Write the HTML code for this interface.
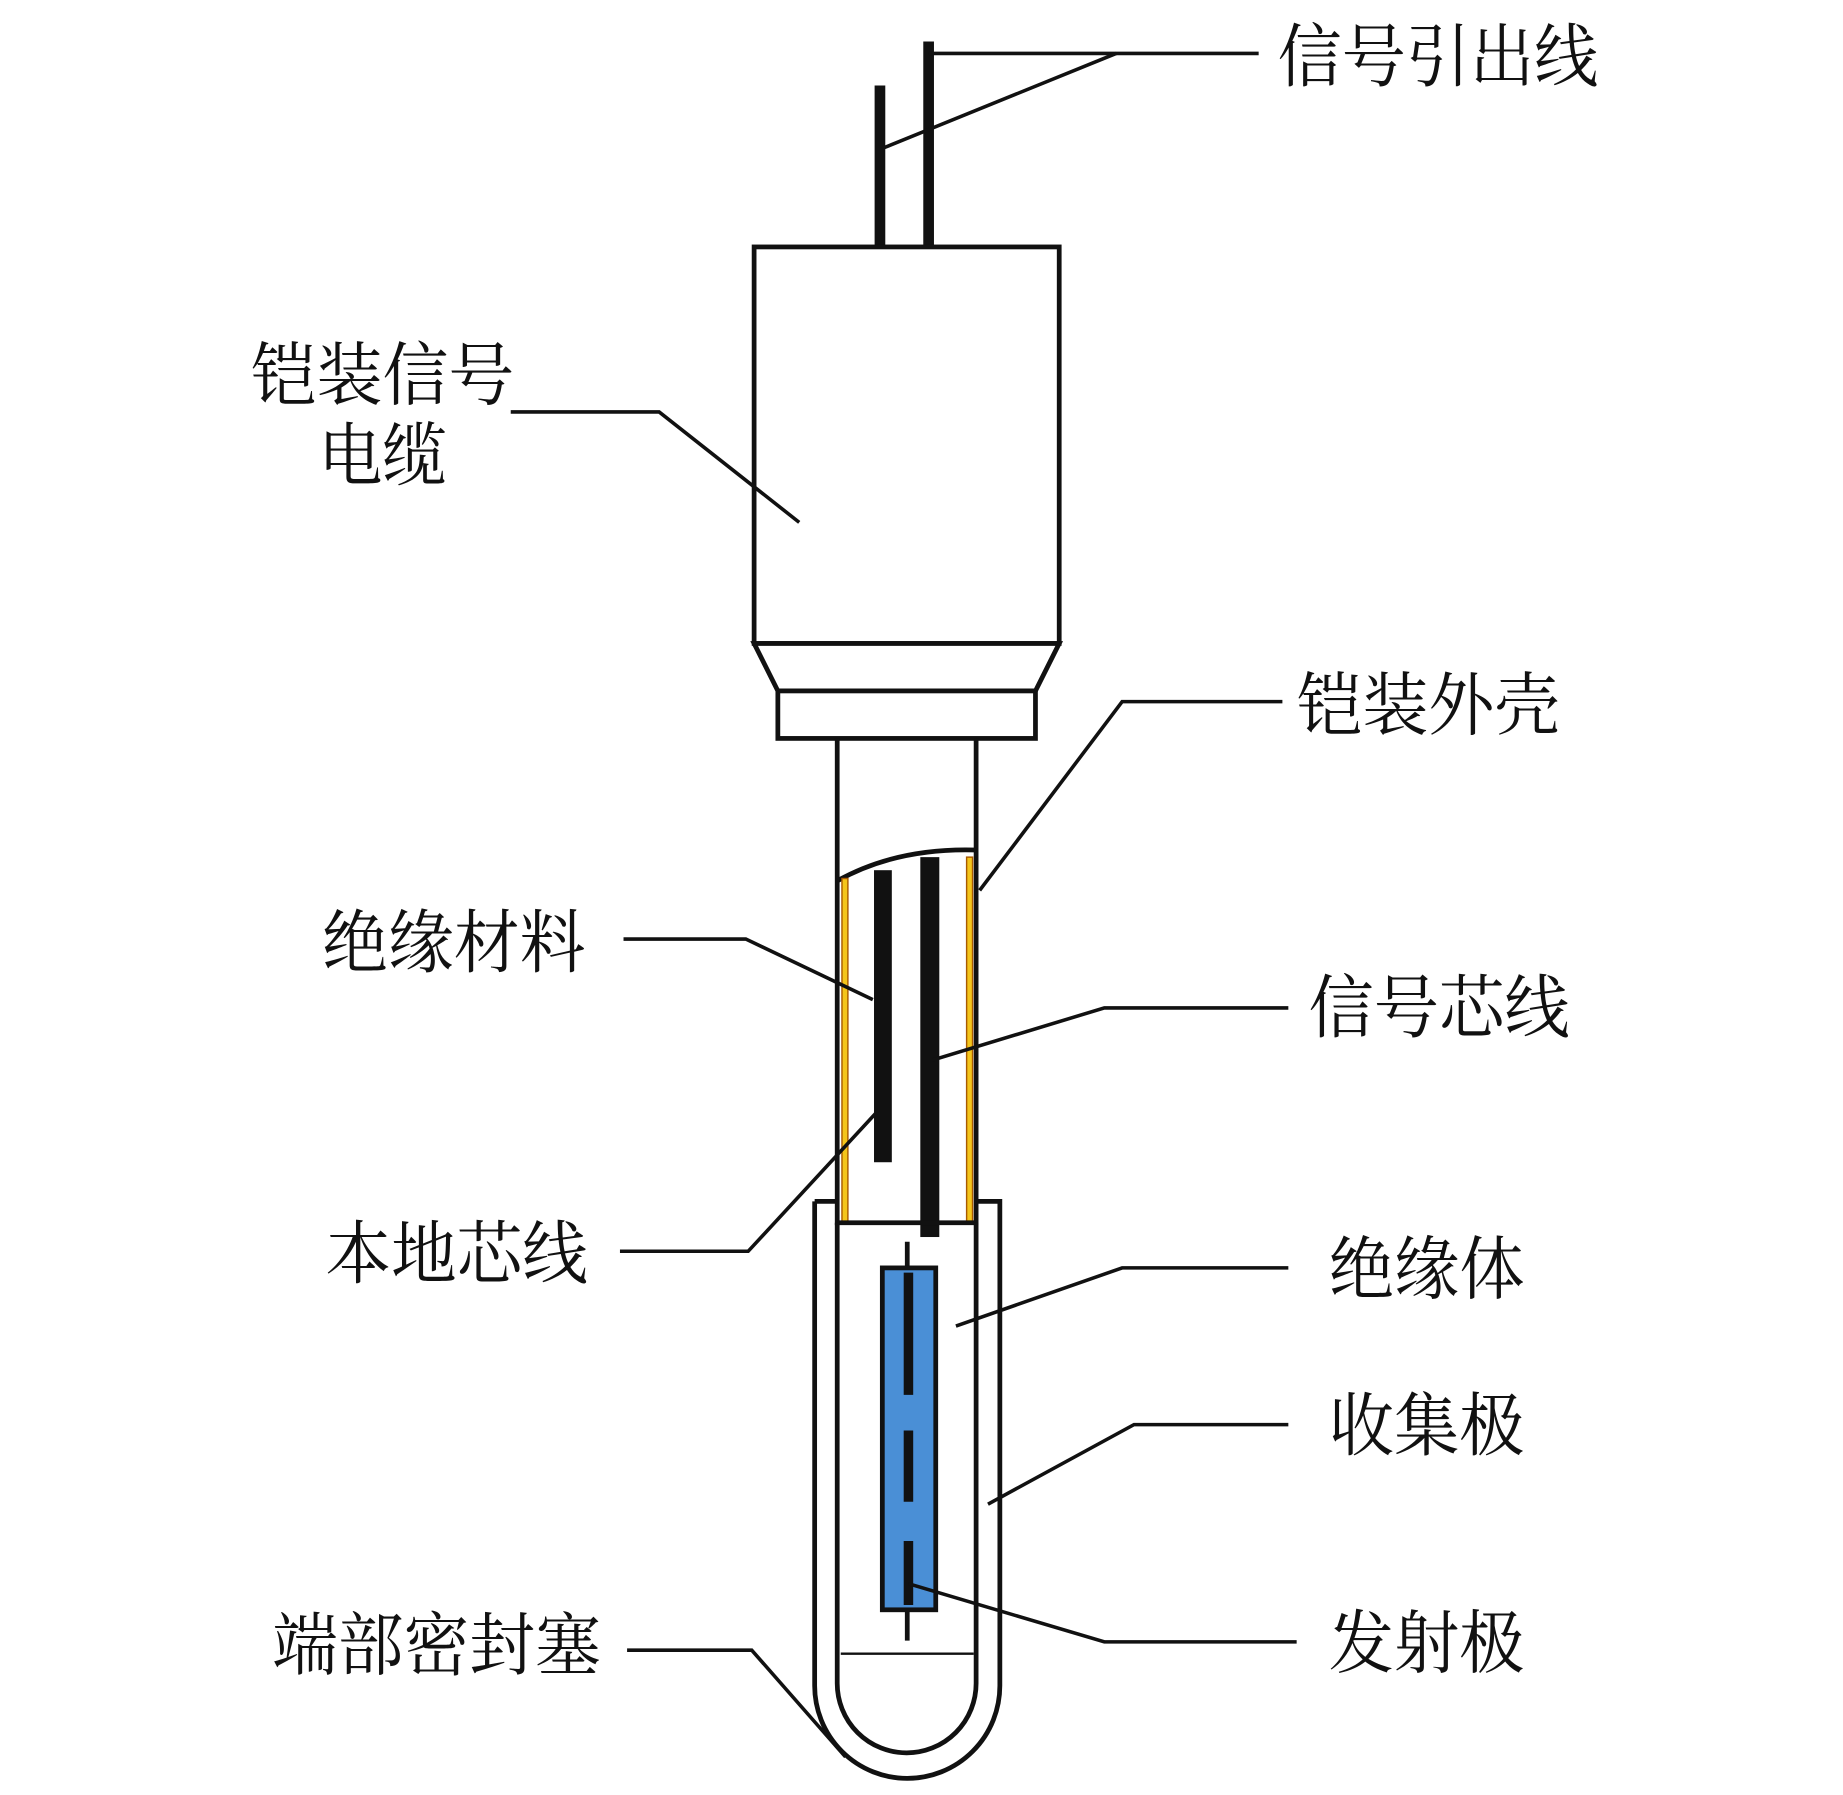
<!DOCTYPE html>
<html><head><meta charset="utf-8"><style>html,body{margin:0;padding:0;background:#fff}svg{display:block}</style></head>
<body>
<svg width="1843" height="1795" viewBox="0 0 1552 1512" xmlns="http://www.w3.org/2000/svg">
<rect width="1552" height="1512" fill="#fff"/>
<g font-family="'Liberation Serif','Noto Serif CJK SC',serif" font-size="58" fill="#111">
<text x="1076" y="68" textLength="270" lengthAdjust="spacingAndGlyphs">信号引出线</text>
<text x="211" y="336" textLength="222" lengthAdjust="spacingAndGlyphs">铠装信号</text>
<text x="268" y="404" textLength="108" lengthAdjust="spacingAndGlyphs">电缆</text>
<text x="1092" y="614" textLength="222" lengthAdjust="spacingAndGlyphs">铠装外壳</text>
<text x="271" y="814" textLength="222" lengthAdjust="spacingAndGlyphs">绝缘材料</text>
<text x="1102" y="869" textLength="220" lengthAdjust="spacingAndGlyphs">信号芯线</text>
<text x="274" y="1076" textLength="221" lengthAdjust="spacingAndGlyphs">本地芯线</text>
<text x="1119" y="1089" textLength="165" lengthAdjust="spacingAndGlyphs">绝缘体</text>
<text x="1119" y="1221" textLength="165" lengthAdjust="spacingAndGlyphs">收集极</text>
<text x="1119" y="1404" textLength="165" lengthAdjust="spacingAndGlyphs">发射极</text>
<text x="229" y="1406" textLength="277" lengthAdjust="spacingAndGlyphs">端部密封塞</text>
</g>
<g stroke="#111" fill="none" stroke-width="4">
<line x1="741" y1="72" x2="741" y2="207" stroke-width="9"/>
<line x1="782" y1="35" x2="782" y2="207" stroke-width="9"/>
<rect x="635" y="208" width="257" height="334" fill="#fff" stroke-width="4"/>
<polygon points="635,542 892,542 872,582 655,582" fill="#fff"/>
<rect x="655" y="582" width="217" height="40" fill="#fff"/>
<path d="M686,1012 L686,1420 A78,78 0 0 0 842,1420 L842,1012 L822,1012" fill="#fff"/>
<path d="M686,1012 L705,1012"/>
<line x1="705" y1="622" x2="705" y2="1032"/>
<line x1="822" y1="622" x2="822" y2="1032"/>
<path d="M705,742 Q755,714 822,716"/>
<rect x="709" y="740" width="5" height="290" fill="#f4c51b" stroke="#a85a00" stroke-width="1.2"/>
<rect x="814" y="722" width="5" height="308" fill="#f4c51b" stroke="#a85a00" stroke-width="1.2"/>
<rect x="736" y="733" width="15" height="246" fill="#111" stroke="none"/>
<rect x="775" y="722" width="16" height="320" fill="#111" stroke="none"/>
<line x1="705" y1="1030" x2="822" y2="1030"/>
<path d="M705,1030 L705,1418 A58.5,58.5 0 0 0 822,1418 L822,1030" />
<line x1="708" y1="1393" x2="820" y2="1393" stroke-width="2"/>
<line x1="764" y1="1046" x2="764" y2="1382" stroke-width="4"/>
<rect x="743" y="1068" width="45" height="288" fill="#4a8fd6" stroke-width="4"/>
<line x1="765" y1="1072" x2="765" y2="1175" stroke-width="8"/>
<line x1="765" y1="1205" x2="765" y2="1265" stroke-width="8"/>
<line x1="765" y1="1298" x2="765" y2="1352" stroke-width="8"/>
<g stroke-width="3">
<polyline points="1060,45 782,45"/>
<polyline points="940,45 743,125"/>
<polyline points="430,347 555,347 673,440"/>
<polyline points="1080,591 945,591 825,750"/>
<polyline points="525,791 628,791 735,842"/>
<polyline points="1085,849 930,849 785,893"/>
<polyline points="522,1054 630,1054 740,935"/>
<polyline points="1085,1068 945,1068 805,1117"/>
<polyline points="1085,1200 955,1200 832,1267"/>
<polyline points="1092,1383 930,1383 765,1334"/>
<polyline points="528,1390 633,1390 712,1480"/>
</g>
</g>
</svg>
</body></html>
